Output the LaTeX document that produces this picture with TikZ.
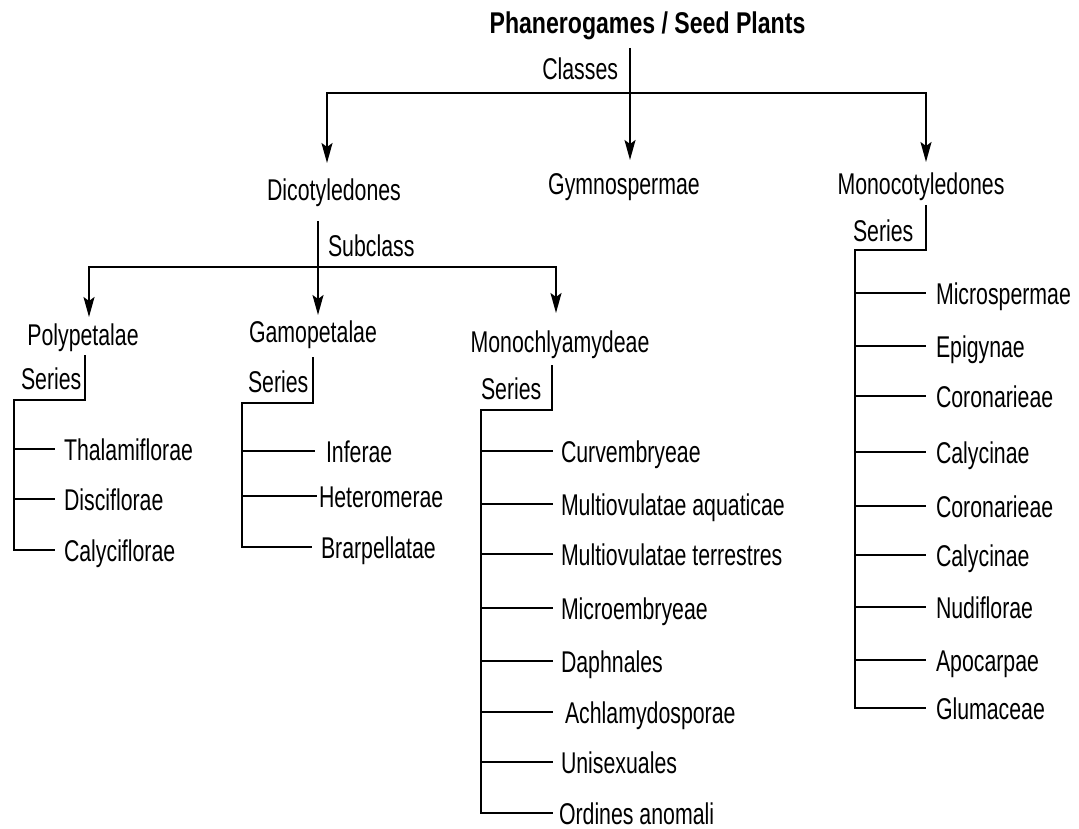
\documentclass[tikz,border=0pt]{standalone}
\usepackage{fontspec}
\setmainfont{Liberation Sans}[FakeStretch=0.71]
\newfontfamily\titlefont{Liberation Sans}[FakeStretch=0.77]
\usetikzlibrary{arrows.meta}
\tikzset{
  arr/.style={-{Stealth[length=20pt,width=11pt,inset=4pt]}},
  lbl/.style={inner sep=0pt, font=\fontsize{30}{34}\selectfont},
  ttl/.style={inner sep=0pt, font=\titlefont\bfseries\fontsize{30}{34}\selectfont},
  leaf/.style={lbl, anchor=base west, inner xsep=#1},
  leaf/.default=8pt,
}
\begin{document}
\begin{tikzpicture}[x=1pt,y=-1pt, line width=2pt, line join=miter]
\useasboundingbox (0,0) rectangle (1079,829);

% ---- top level
\node[ttl, anchor=base] (title) at (647.5,34) {Phanerogames / Seed Plants};
\node[lbl, anchor=base east] (classes) at (619,80) {Classes};
\coordinate (ctop) at (630,48);
\coordinate (cmid) at (630,93);
\coordinate (adicot) at (327,163);
\coordinate (agymno) at (630,160);
\coordinate (amonoc) at (926,162);
\draw[arr] (ctop) -- (agymno);
\draw[arr] (cmid) -| (adicot);
\draw[arr] (cmid) -| (amonoc);
\node[lbl, anchor=base] (dicot) at (334,201) {Dicotyledones};
\node[lbl, anchor=base] (gymno) at (624,195) {Gymnospermae};
\node[lbl, anchor=base] (monoc) at (921,195) {Monocotyledones};

% ---- dicot subclasses
\coordinate (dtop) at (318,221);
\coordinate (dmid) at (318,267);
\node[lbl, anchor=base west] (subclass) at (327,257) {Subclass};
\coordinate (apoly) at (89,317);
\coordinate (agamo) at (318,315);
\coordinate (amonch) at (556,313);
\draw[arr] (dtop) -- (agamo);
\draw[arr] (dmid) -| (apoly);
\draw[arr] (dmid) -| (amonch);
\node[lbl, anchor=base] (poly) at (83,345) {Polypetalae};
\node[lbl, anchor=base] (gamo) at (313,342) {Gamopetalae};
\node[lbl, anchor=base] (monch) at (560,352) {Monochlyamydeae};

% ---- Polypetalae series
\node[lbl, anchor=base west] (pser) at (20,389) {Series};
\coordinate (p0) at (85,355);
\coordinate (pc) at (14,400);
\coordinate (p1) at (14,449);
\coordinate (p2) at (14,499);
\coordinate (p3) at (14,550);
\node[leaf] (thal) at (55,460) {Thalamiflorae};
\node[leaf] (disc) at (55,510) {Disciflorae};
\node[leaf] (calyf) at (55,561) {Calyciflorae};
\draw (p0) |- (pc) -- (p3) -- (p3 -| calyf.west);
\draw (p1) -- (p1 -| thal.west);
\draw (p2) -- (p2 -| disc.west);

% ---- Gamopetalae series
\node[lbl, anchor=base west] (gser) at (247,392) {Series};
\coordinate (g0) at (313,357);
\coordinate (gc) at (242,403);
\coordinate (g1) at (242,451);
\coordinate (g2) at (242,496);
\coordinate (g3) at (242,547);
\node[leaf=10pt] (infe) at (315,462) {Inferae};
\node[leaf=1pt] (hete) at (317,507) {Heteromerae};
\node[leaf] (brar) at (312,558) {Brarpellatae};
\draw (g0) |- (gc) -- (g3) -- (g3 -| brar.west);
\draw (g1) -- (g1 -| infe.west);
\draw (g2) -- (g2 -| hete.west);

% ---- Monochlyamydeae series
\node[lbl, anchor=base west] (mser) at (480,399) {Series};
\coordinate (m0) at (552,365);
\coordinate (mc) at (481,410);
\coordinate (m1) at (481,451);
\coordinate (m2) at (481,504);
\coordinate (m3) at (481,554);
\coordinate (m4) at (481,608);
\coordinate (m5) at (481,661);
\coordinate (m6) at (481,712);
\coordinate (m7) at (481,762);
\coordinate (m8) at (481,813);
\node[leaf=7pt] (curv) at (553,462) {Curvembryeae};
\node[leaf=7pt] (mula) at (553,515) {Multiovulatae aquaticae};
\node[leaf=7pt] (mult) at (553,565) {Multiovulatae terrestres};
\node[leaf=7pt] (micr) at (553,619) {Microembryeae};
\node[leaf=7pt] (daph) at (553,672) {Daphnales};
\node[leaf=11pt] (achl) at (553,723) {Achlamydosporae};
\node[leaf=7pt] (unis) at (553,773) {Unisexuales};
\node[leaf=5pt] (ordi) at (553,824) {Ordines anomali};
\draw (m0) |- (mc) -- (m8) -- (m8 -| ordi.west);
\draw (m1) -- (m1 -| curv.west);
\draw (m2) -- (m2 -| mula.west);
\draw (m3) -- (m3 -| mult.west);
\draw (m4) -- (m4 -| micr.west);
\draw (m5) -- (m5 -| daph.west);
\draw (m6) -- (m6 -| achl.west);
\draw (m7) -- (m7 -| unis.west);

% ---- Monocotyledones series
\node[lbl, anchor=base west] (moser) at (852,241) {Series};
\coordinate (o0) at (926,205);
\coordinate (oc) at (855,250);
\coordinate (o1) at (855,293);
\coordinate (o2) at (855,346);
\coordinate (o3) at (855,396);
\coordinate (o4) at (855,452);
\coordinate (o5) at (855,506);
\coordinate (o6) at (855,555);
\coordinate (o7) at (855,607);
\coordinate (o8) at (855,660);
\coordinate (o9) at (855,708);
\node[leaf=9pt] (mics) at (926,304) {Microspermae};
\node[leaf=9pt] (epig) at (926,357) {Epigynae};
\node[leaf=9pt] (coro) at (926,407) {Coronarieae};
\node[leaf=9pt] (calc) at (926,463) {Calycinae};
\node[leaf=9pt] (corb) at (926,517) {Coronarieae};
\node[leaf=9pt] (cald) at (926,566) {Calycinae};
\node[leaf=9pt] (nudi) at (926,618) {Nudiflorae};
\node[leaf=9pt] (apoc) at (926,671) {Apocarpae};
\node[leaf=9pt] (glum) at (926,719) {Glumaceae};
\draw (o0) |- (oc) -- (o9) -- (o9 -| glum.west);
\draw (o1) -- (o1 -| mics.west);
\draw (o2) -- (o2 -| epig.west);
\draw (o3) -- (o3 -| coro.west);
\draw (o4) -- (o4 -| calc.west);
\draw (o5) -- (o5 -| corb.west);
\draw (o6) -- (o6 -| cald.west);
\draw (o7) -- (o7 -| nudi.west);
\draw (o8) -- (o8 -| apoc.west);
\end{tikzpicture}
\end{document}
